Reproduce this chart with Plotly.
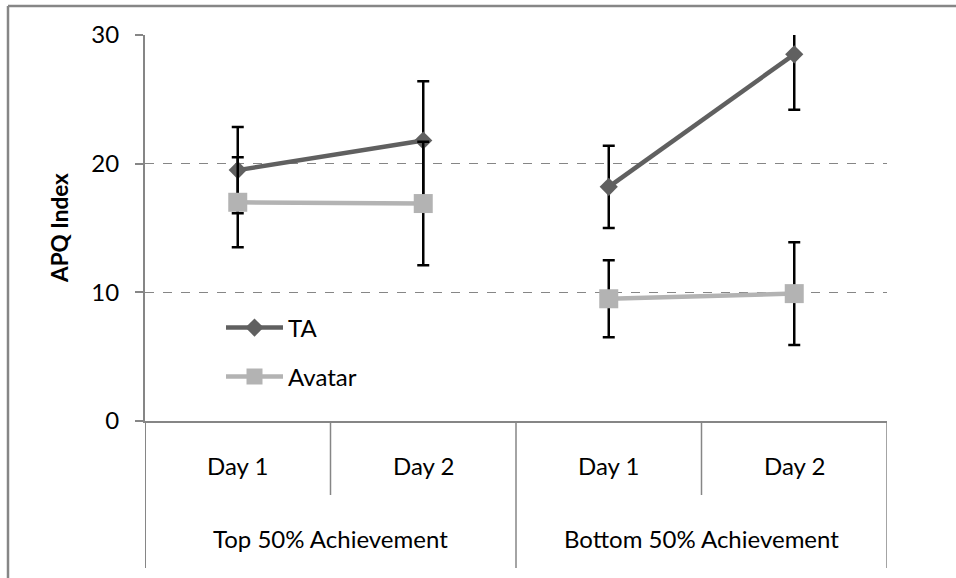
import plotly.graph_objects as go

# ---- data ----
groups = ["Top 50% Achievement", "Bottom 50% Achievement"]
days = ["Day 1", "Day 2", "Day 1", "Day 2"]
positions = [1, 2, 3, 4]
ta_values = [19.5, 21.8, 18.2, 28.5]
ta_errors = [3.35, 4.6, 3.2, 4.3]
avatar_values = [17.0, 16.9, 9.5, 9.9]
avatar_errors = [3.5, 4.8, 3.0, 4.0]
y_ticks = [0, 10, 20, 30]

FONT = "Lato, Carlito, Calibri, sans-serif"
GREY = "#868686"
TA_COLOR = "#606060"
AV_COLOR = "#b3b3b3"

fig = go.Figure()

series = [
    ("TA", ta_values, ta_errors, TA_COLOR, "diamond", 14, "legend"),
    ("Avatar", avatar_values, avatar_errors, AV_COLOR, "square", 19, "legend2"),
]
per_group = len(days) // len(groups)
for name, vals, errs, col, sym, msize, leg in series:
    for gi in range(len(groups)):
        sl = slice(gi * per_group, (gi + 1) * per_group)
        fig.add_trace(go.Scatter(
            x=positions[sl], y=vals[sl], name=name, mode="lines+markers",
            legendgroup=name, showlegend=(gi == 0), legend=leg,
            line=dict(color=col, width=4.5),
            marker=dict(symbol=sym, size=msize, color=col),
            error_y=dict(type="data", array=errs[sl], visible=True,
                         color="black", thickness=2.5, width=6),
        ))

# plot area geometry (px)
L, R, T, B = 145, 887, 35, 421
W, H = 956, 578
pw, ph = R - L, B - T

def py(ypx):
    return (B - ypx) / ph

def px(xpx):
    return (xpx - L) / pw

shapes = []
# category box dividers
for i, xb in enumerate([0.5, 1.5, 2.5, 3.5, 4.5]):
    long_line = i % 2 == 0
    shapes.append(dict(type="line", xref="x", yref="paper",
                       x0=xb, x1=xb, y0=0, y1=py(568 if long_line else 495),
                       line=dict(color=GREY, width=2 if i == 0 else 1.5)))
# outer chart border (left & top visible)
shapes.append(dict(type="line", xref="paper", yref="paper",
                   x0=px(8), x1=px(8), y0=py(6), y1=py(600),
                   line=dict(color=GREY, width=2.5)))
shapes.append(dict(type="line", xref="paper", yref="paper",
                   x0=px(8), x1=px(990), y0=py(6), y1=py(6),
                   line=dict(color=GREY, width=2.5)))

annotations = []
for xpos, d in zip(positions, days):
    annotations.append(dict(x=xpos, y=py(465), xref="x", yref="paper", text=d,
                            showarrow=False, font=dict(size=24, color="black", family=FONT),
                            xanchor="center", yanchor="middle"))
for gi, g in enumerate(groups):
    annotations.append(dict(x=1.5 + 2 * gi, y=py(538), xref="x", yref="paper", text=g,
                            showarrow=False, font=dict(size=24, color="black", family=FONT),
                            xanchor="center", yanchor="middle"))
annotations.append(dict(x=px(59), y=py(228), xref="paper", yref="paper", text="<b>APQ Index</b>",
                        textangle=-90, showarrow=False,
                        font=dict(size=22.5, color="black", family=FONT),
                        xanchor="center", yanchor="middle"))

fig.update_layout(
    width=W, height=H,
    margin=dict(l=L, r=W - R, t=T, b=H - B),
    paper_bgcolor="white", plot_bgcolor="white",
    font=dict(family=FONT, size=24, color="black"),
    xaxis=dict(range=[0.5, 4.5], showticklabels=False, showgrid=False,
               zeroline=False, showline=True, linecolor=GREY, linewidth=2,
               ticks="", fixedrange=True),
    yaxis=dict(range=[0, 30], tickvals=y_ticks, showgrid=True, gridcolor=GREY,
               griddash="dash", gridwidth=1, zeroline=False, showline=True,
               linecolor=GREY, linewidth=2, ticks="outside", ticklen=8,
               tickcolor=GREY, tickwidth=1.5, ticklabelstandoff=11,
               tickfont=dict(size=24, family=FONT, color="black")),
    showlegend=True,
    legend=dict(x=px(221), y=py(328), xanchor="left", yanchor="middle",
                bgcolor="rgba(0,0,0,0)", font=dict(size=24, family=FONT),
                itemwidth=57),
    legend2=dict(x=px(221), y=py(377), xanchor="left", yanchor="middle",
                 bgcolor="rgba(0,0,0,0)", font=dict(size=24, family=FONT),
                 itemwidth=57),
    shapes=shapes,
    annotations=annotations,
)

fig.write_html("out.html", config={"displayModeBar": False},
               post_script="document.body.style.margin='0';document.body.style.overflow='hidden';")
